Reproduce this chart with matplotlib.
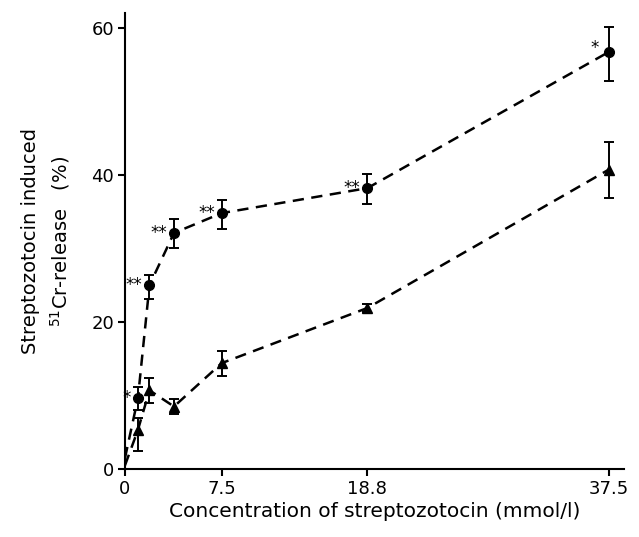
import matplotlib
matplotlib.use('Agg')
import matplotlib.pyplot as plt
import numpy as np

# concentration (mmol/l)
conc = [0, 1.0, 1.9, 3.8, 7.5, 18.8, 37.5]

# circles
circ = [1.5, 9.6, 25.0, 32.1, 34.8, 38.2, 56.7]
circ_lo = [0, 1.6, 1.9, 2.0, 2.1, 2.1, 3.9]
circ_hi = [0, 1.6, 1.4, 1.9, 1.8, 1.9, 3.4]
circ_stars = ['', '*', '**', '**', '**', '**', '*']

# triangles
tri = [0.5, 5.3, 10.7, 8.5, 14.4, 21.9, 40.7]
tri_lo = [0, 2.8, 1.7, 1.0, 1.8, 0.6, 3.8]
tri_hi = [0, 1.6, 1.7, 1.0, 1.6, 0.6, 3.8]

plt.rcParams['font.family'] = 'DejaVu Sans'
fig = plt.figure(figsize=(6.39, 5.37), dpi=100)
ax = fig.add_axes([0.1956, 0.1266, 0.781, 0.849])

dash = (0, (4.5, 3))
ax.errorbar(conc[1:], circ[1:], yerr=[circ_lo[1:], circ_hi[1:]], fmt='none',
            ecolor='black', elinewidth=1.4, capsize=3.5, capthick=1.4, zorder=3)
ax.errorbar(conc[1:], tri[1:], yerr=[tri_lo[1:], tri_hi[1:]], fmt='none',
            ecolor='black', elinewidth=1.4, capsize=3.5, capthick=1.4, zorder=3)
ax.plot(conc, circ, color='black', linestyle=dash, linewidth=1.8, zorder=2)
ax.plot(conc, tri, color='black', linestyle=dash, linewidth=1.8, zorder=2)
ax.plot(conc[1:], circ[1:], 'o', color='black', markersize=7, zorder=4)
ax.plot(conc[1:], tri[1:], '^', color='black', markersize=7.5, zorder=4)

for x, y, s in zip(conc, circ, circ_stars):
    if not s:
        continue
    if x == 37.5:
        ax.annotate(s, (x, y), xytext=(-7, 3), textcoords='offset points',
                    ha='right', va='center', fontsize=12)
    else:
        ax.annotate(s, (x, y), xytext=(-5, 0), textcoords='offset points',
                    ha='right', va='center', fontsize=12)

ax.set_xlim(0, 38.7)
ax.set_ylim(0, 62)
ax.set_xticks([0, 7.5, 18.8, 37.5])
ax.set_xticklabels(['0', '7.5', '18.8', '37.5'])
ax.set_yticks([0, 20, 40, 60])
ax.spines['top'].set_visible(False)
ax.spines['right'].set_visible(False)
ax.spines['left'].set_linewidth(1.5)
ax.spines['bottom'].set_linewidth(1.5)
ax.tick_params(direction='out', length=5, width=1.5, labelsize=13, pad=3)

ax.set_xlabel('Concentration of streptozotocin (mmol/l)', fontsize=14.5, labelpad=3)
ax.set_ylabel('Streptozotocin induced\n$^{51}$Cr-release   (%)', fontsize=14,
              labelpad=14, linespacing=1.4)

fig.savefig('out.png', dpi=100)
